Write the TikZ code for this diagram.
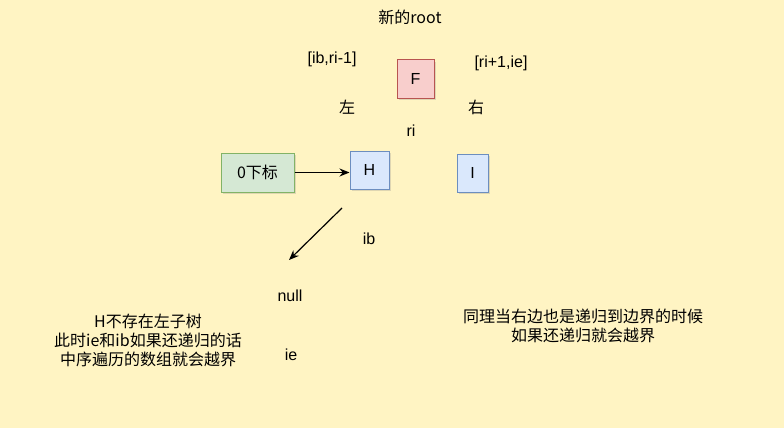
\documentclass[tikz,border=0pt]{standalone}
\usepackage{fontspec}
\setmainfont{Liberation Sans}
\newfontfamily\cjk{Noto Sans CJK SC}
\usetikzlibrary{shadows,arrows.meta}
\definecolor{bg}{HTML}{FFF4C3}
\definecolor{redf}{HTML}{F8CECC}\definecolor{redd}{HTML}{B85450}
\definecolor{bluef}{HTML}{DAE8FC}\definecolor{blued}{HTML}{6C8EBF}
\definecolor{greenf}{HTML}{D5E8D4}\definecolor{greend}{HTML}{82B366}
\tikzset{
 box/.style={draw, line width=1pt, minimum width=#1, inner sep=0pt, drop shadow={opacity=0.25,shadow xshift=2pt,shadow yshift=-2pt}},
 lbl/.style={font=\fontsize{16}{19}\selectfont, align=center},
 cj/.style={font=\cjk\fontsize{16}{19}\selectfont, align=center},
 arr/.style={-{Stealth[length=10pt,width=8pt]}, line width=1.2pt}
}
\begin{document}
\begin{tikzpicture}[x=1pt,y=-1pt]
\fill[bg] (0,0) rectangle (784,428);
\useasboundingbox (0,0) rectangle (784,428);
\node[box=37pt, minimum height=38pt, fill=redf, draw=redd, lbl] (F) at (415.5,79) {F};
\node[box=39pt, minimum height=38pt, fill=bluef, draw=blued, lbl] (H) at (369.5,170) {H};
\node[box=31pt, minimum height=38pt, fill=bluef, draw=blued, lbl] (I) at (472.5,173) {I};
\node[box=73pt, minimum height=39pt, fill=greenf, draw=greend, cj] (Z) at (257.5,172.5) {0下标};
\draw[arr] (Z.east) -- (Z.east -| H.west);
\coordinate (a1) at (342,208);
\coordinate (a2) at (289,260);
\draw[arr] (a1) -- (a2);
\node[cj] (t1) at (410,17) {新的root};
\node[lbl] (t2) at (332,59) {[ib,ri-1]};
\node[lbl] (t3) at (501,63) {[ri+1,ie]};
\node[cj] (t4) at (347,107) {左};
\node[cj] (t5) at (476,107) {右};
\node[lbl] (t6) at (411,131) {ri};
\node[lbl] (t7) at (369,239) {ib};
\node[lbl] (t8) at (290,296) {null};
\node[lbl] (t9) at (291,355) {ie};
\node[cj] (t10) at (148,340) {H不存在左子树\\此时ie和ib如果还递归的话\\中序遍历的数组就会越界};
\node[cj] (t11) at (583,326) {同理当右边也是递归到边界的时候\\如果还递归就会越界};
\end{tikzpicture}
\end{document}
